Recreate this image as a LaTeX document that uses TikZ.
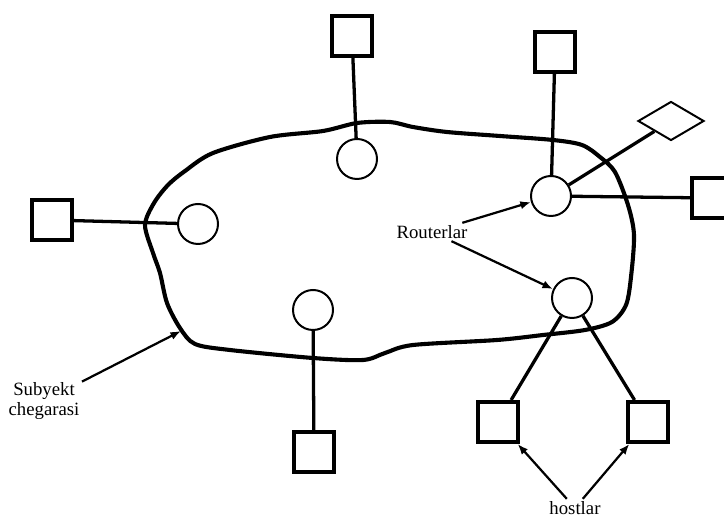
\documentclass[tikz,border=0pt]{standalone}
\usepackage{fontspec}
\setmainfont{Liberation Serif}
\usetikzlibrary{arrows.meta, shapes.geometric}
\tikzset{
x=0.03cm, y=-0.03cm, % one unit is one pixel of the sketch, y runs down
>={Latex[length=9pt, width=7pt]}, % filled arrow heads
router/.style={circle, draw, line width=1.7pt, minimum size=1.2cm, inner sep=0pt}, % routers inside the area
host/.style={rectangle, draw, line width=3.4pt, minimum size=1.2cm, inner sep=0pt}, % hosts
gate/.style={diamond, draw, line width=1.7pt, minimum width=1.98cm, minimum height=1.17cm, inner sep=0pt},
link/.style={line width=2.8pt},
pointer/.style={->, line width=1.9pt},
note/.style={font=\fontsize{16}{17}\selectfont, inner sep=2pt, align=center},
}
\begin{document}
\begin{tikzpicture}
    \useasboundingbox (0,0) rectangle (724,517);
    \clip (0,0) rectangle (724,517);
    % subject boundary
    \draw[line width=3.5pt, line join=round] plot[smooth cycle, tension=0.5] coordinates {
      (145,225) (154,203) (168,185) (185,171) (213,153) (270,137) (323,131) (357,123)
      (390,122) (413,127) (447,132) (500,136) (553,140) (582,145) (600,157) (615,172)
      (628,205) (634,235) (631,277) (626,305) (612,322) (585,330) (543,335) (497,340)
      (413,345) (385,353) (363,360) (313,358) (230,350) (195,344) (180,328) (167,303)
      (160,273) (153,253)};
    \coordinate (chegara) at (181,331);
    % routers
    \node[router] (rt) at (357,159) {};
    \node[router] (rl) at (198,224) {};
    \node[router] (rb) at (313,310) {};
    \node[router] (r1) at (551,196) {};
    \node[router] (r2) at (572,298) {};
    % hosts
    \node[host] (ht) at (352,36) {};
    \node[host] (hl) at (52,220) {};
    \node[host] (hb) at (314,452) {};
    \node[host] (h1) at (555,52) {};
    \node[host] (h2) at (712,198) {};
    \node[host] (h3) at (498,422) {};
    \node[host] (h4) at (648,422) {};
    \node[gate] (g1) at (671,121) {};
    % labels
    \node[note] (routerlar) at (432,232) {Routerlar};
    \node[note] (subyekt) at (44,401) {Subyekt\\chegarasi};
    \node[note] (hostlar) at (575,508) {hostlar};
    \draw[link] (ht) -- (rt)
    (hl) -- (rl)
    (hb) -- (rb)
    (h1) -- (r1)
    (r1) -- (h2)
    (r1) -- (g1)
    (r2) -- (h3)
    (r2) -- (h4);
    \draw[pointer] (routerlar) -- (r1);
    \draw[pointer] (routerlar) -- (r2);
    \draw[pointer] (subyekt) -- (chegara);
    \draw[pointer] (hostlar) -- (h3);
    \draw[pointer] (hostlar) -- (h4);
  \end{tikzpicture}
\end{document}
